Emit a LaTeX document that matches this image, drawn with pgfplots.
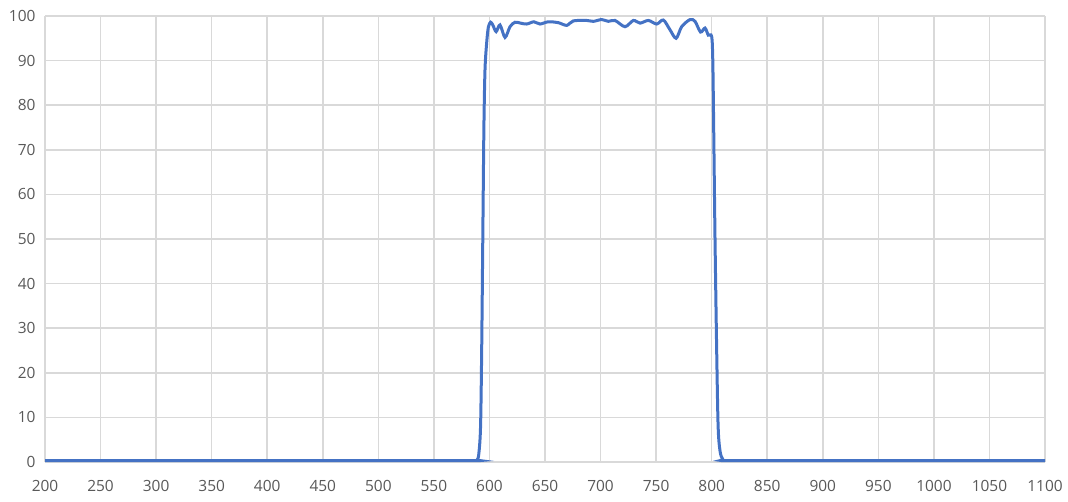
\documentclass[border=0pt]{standalone}
\usepackage{pgfplots}
\pgfplotsset{compat=1.18}
\usepackage{fontspec}
\setmainfont{Open Sans}
\definecolor{lineblue}{RGB}{68,114,196}
\definecolor{gridgray}{RGB}{217,217,217}
\definecolor{labelgray}{RGB}{89,89,89}
\begin{document}
\begin{tikzpicture}
\begin{axis}[
  scale only axis,
  width=1000bp, height=446bp,
  xmin=200, xmax=1100, ymin=0, ymax=100,
  xtick={200,250,...,1100}, ytick={0,10,...,100},
  grid=major,
  major grid style={gridgray, line width=1.5bp},
  axis line style={draw=none},
  major tick length=0pt,
  tick label style={font=\fontsize{15.5}{16}\selectfont, text=labelgray},
  /pgf/number format/assume math mode=true,
  /pgf/number format/1000 sep={},
  xticklabel style={yshift=-15bp},
  yticklabel style={xshift=-6bp},
  clip=false,
]
\addplot[lineblue, line width=3bp, smooth, tension=0.5] coordinates {
(200,0.3) (300,0.3) (400,0.3) (500,0.3) (585,0.3) (589,0.5) (590.5,2) (592,8) (593,25) (594,50) (595,75) (596,88) (597.5,94) (599,97.5)
(601,98.6) (603,98) (606,96.5) (609.5,98) (614,95.2) (618.5,97.6) (623,98.6) (628,98.4) (633.5,98.2)
(640,98.7) (645.5,98.2) (653,98.7) (662,98.5) (669.5,97.9) (675.5,98.9) (687.5,99.0) (693.5,98.8)
(701,99.2) (707,98.8) (713,99.0) (722,97.6) (729.5,99.0) (735.5,98.4) (743,99.0) (750.5,98.2)
(756.5,99.1) (762.5,96.9) (768,95.0) (773,97.6) (780.5,99.2) (785,98.8) (790,96.4) (794,97.3)
(797,95.7) (800,95.4) (801,90) (801.8,75) (803,50) (804.5,25) (805.8,8) (807.5,2.5) (810,0.6) (815,0.3)
(900,0.3) (1000,0.3) (1100,0.3)
};
\end{axis}
\pgfresetboundingbox
\path[use as bounding box] (-45bp,-40bp) rectangle (1023bp,462bp);
\end{tikzpicture}
\end{document}
